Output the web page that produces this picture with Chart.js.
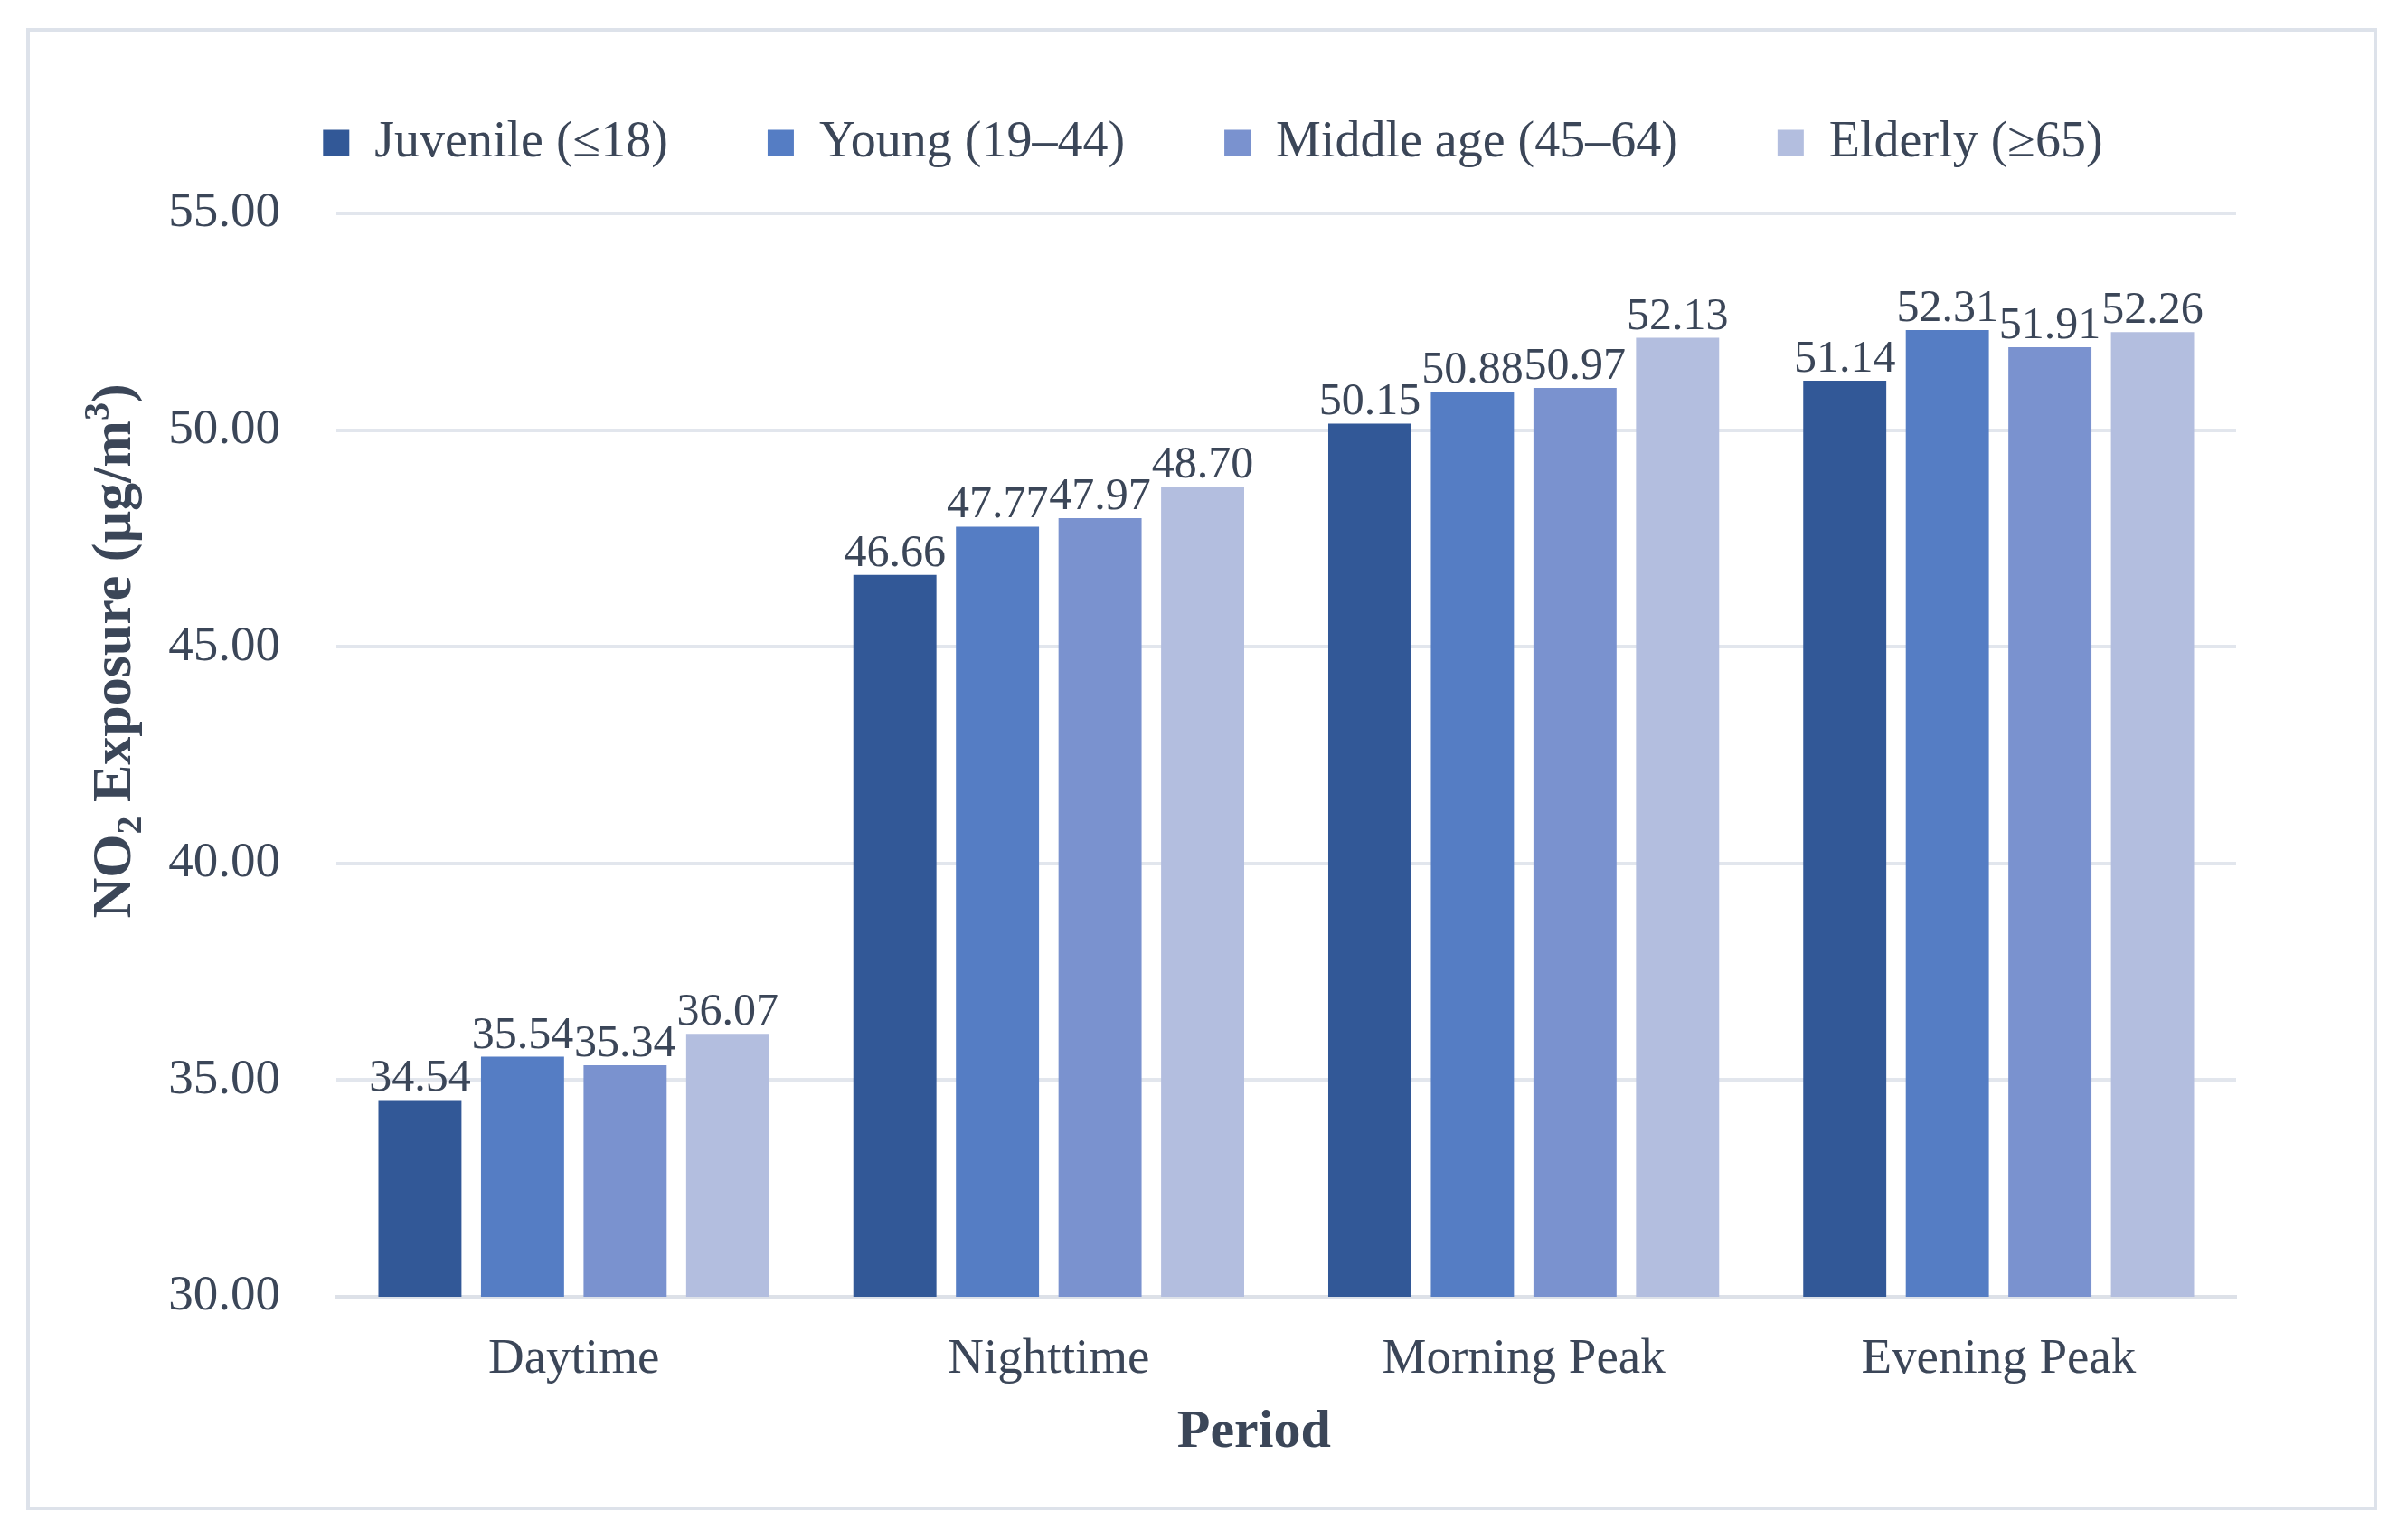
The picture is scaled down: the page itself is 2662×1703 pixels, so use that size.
<!DOCTYPE html>
<html>
<head>
<meta charset="utf-8">
<script src="https://cdn.jsdelivr.net/npm/chart.js@4.4.1/dist/chart.umd.min.js"></script>
<style>
  html, body { margin: 0; padding: 0; background: #fff; }
  #frame {
    position: absolute; left: 29px; top: 31px;
    width: 2600px; height: 1639px;
    box-sizing: border-box;
    border: 4px solid #dde2ea;
  }
  #frame canvas { display: block; }
</style>
</head>
<body>
<div id="frame"><canvas id="no2Chart"></canvas></div>
<script>
// ── data ──
const CATEGORIES = ['Daytime', 'Nighttime', 'Morning Peak', 'Evening Peak'];
const GROUPS     = ['Juvenile (≤18)', 'Young (19–44)', 'Middle age (45–64)', 'Elderly (≥65)'];
const JUVENILE   = [34.54, 46.66, 50.15, 51.14];
const YOUNG      = [35.54, 47.77, 50.88, 52.31];
const MIDDLE_AGE = [35.34, 47.97, 50.97, 51.91];
const ELDERLY    = [36.07, 48.70, 52.13, 52.26];
const Y_MIN = 30, Y_MAX = 55, Y_STEP = 5;
const X_TITLE = 'Period';
// y title pieces: [text, 'sub' | 'sup' | '']
const Y_TITLE = [['NO', ''], ['2', 'sub'], [' Exposure (µg/m', ''], ['3', 'sup'], [')', '']];

const COLORS = ['#325897', '#557dc4', '#7a92cf', '#b3bedf'];
const TEXT   = '#3b4658';
const SERIF  = "'Liberation Serif', 'Times New Roman', serif";

// value labels above each bar
const barLabels = {
  id: 'barLabels',
  afterDatasetsDraw(chart) {
    const ctx = chart.ctx;
    ctx.save();
    ctx.font = `50px ${SERIF}`;
    ctx.fillStyle = TEXT;
    ctx.textAlign = 'center';
    ctx.textBaseline = 'alphabetic';
    chart.data.datasets.forEach((ds, i) => {
      chart.getDatasetMeta(i).data.forEach((bar, j) => {
        ctx.fillText(ds.data[j].toFixed(2), bar.x, bar.y - 10);
      });
    });
    ctx.restore();
  }
};

// axis titles (the y one needs a real subscript / superscript)
const axisTitles = {
  id: 'axisTitles',
  afterDraw(chart) {
    const { ctx, chartArea, scales } = chart;
    ctx.save();
    ctx.fillStyle = TEXT;

    ctx.font = `bold 60px ${SERIF}`;
    ctx.textAlign = 'center';
    ctx.textBaseline = 'middle';
    ctx.fillText(X_TITLE, chartArea.left + chartArea.width * 0.483, scales.x.bottom - 36);

    const big = `bold 62px ${SERIF}`, small = `bold 40px ${SERIF}`;
    let total = 0;
    Y_TITLE.forEach(([t, k]) => { ctx.font = k ? small : big; total += ctx.measureText(t).width; });
    ctx.translate(scales.y.left + 36, chartArea.top + chartArea.height * 0.404);
    ctx.rotate(-Math.PI / 2);
    ctx.textAlign = 'left';
    ctx.textBaseline = 'alphabetic';
    let x = -total / 2;
    Y_TITLE.forEach(([t, k]) => {
      ctx.font = k ? small : big;
      const dy = k === 'sub' ? 32 : k === 'sup' ? -4 : 20;
      ctx.fillText(t, x, dy);
      x += ctx.measureText(t).width;
    });
    ctx.restore();
  }
};

// extra room under the legend
const legendGap = {
  id: 'legendGap',
  beforeInit(chart) {
    const fit = chart.legend.fit;
    chart.legend.fit = function() {
      fit.bind(chart.legend)();
      this.height += 40;
    };
  }
};

const series = [JUVENILE, YOUNG, MIDDLE_AGE, ELDERLY];

new Chart(document.getElementById('no2Chart'), {
  type: 'bar',
  data: {
    labels: CATEGORIES,
    datasets: series.map((vals, i) => ({
      label: GROUPS[i],
      data: vals,
      backgroundColor: COLORS[i],
      borderWidth: 0,
      categoryPercentage: 0.864,
      barPercentage: 0.81
    }))
  },
  options: {
    responsive: true,
    maintainAspectRatio: false,
    animation: false,
    devicePixelRatio: 1,
    layout: { padding: { left: 55, right: 30, top: -15, bottom: 46 } },
    plugins: {
      tooltip: { enabled: false },
      legend: {
        position: 'top',
        labels: {
          color: TEXT,
          font: { family: SERIF, size: 56 },
          boxWidth: 29, boxHeight: 29,
          padding: 110
        }
      }
    },
    scales: {
      x: {
        grid: { display: false },
        border: { display: true, color: '#dde1e8', width: 5 },
        ticks: { color: TEXT, font: { family: SERIF, size: 55 }, padding: 29 },
        afterFit: s => { s.height = 186; }
      },
      y: {
        min: Y_MIN, max: Y_MAX,
        grid: { color: '#e2e6ed', lineWidth: 4, drawTicks: false },
        border: { display: false },
        ticks: {
          stepSize: Y_STEP, color: TEXT, padding: 62,
          font: { family: SERIF, size: 55 },
          callback: v => v.toFixed(2)
        },
        afterFit: s => { s.width = 284; }
      },
      // spacer on the right so the legend sits where the original has it
      yPad: {
        position: 'right', display: true,
        grid: { display: false }, border: { display: false },
        ticks: { display: false },
        afterFit: s => { s.width = 122; }
      }
    }
  },
  plugins: [barLabels, axisTitles, legendGap]
});
</script>
</body>
</html>
